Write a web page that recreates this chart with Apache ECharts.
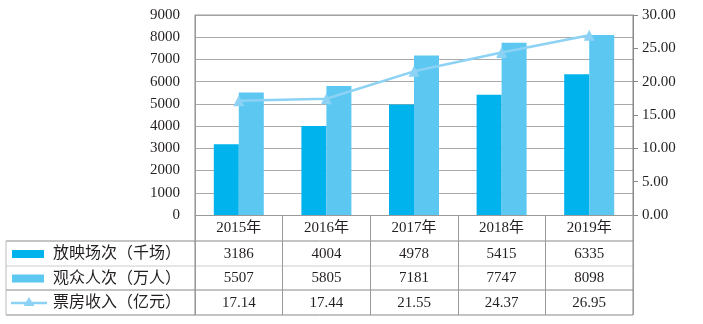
<!DOCTYPE html>
<html><head><meta charset="utf-8">
<script src="https://cdn.jsdelivr.net/npm/echarts@6/dist/echarts.min.js"></script>
<style>html,body{margin:0;padding:0;background:#fff}#c{width:703px;height:324px}</style>
</head><body><div id="c"></div>
<script>
var categories = ['2015年', '2016年', '2017年', '2018年', '2019年'];
var screenings = [3186, 4004, 4978, 5415, 6335];
var audience = [5507, 5805, 7181, 7747, 8098];
var boxOffice = [17.14, 17.44, 21.55, 24.37, 26.95];
var seriesNames = ['放映场次（千场）', '观众人次（万人）', '票房收入（亿元）'];
var tableValues = [
  screenings.map(String),
  audience.map(String),
  boxOffice.map(function (v) { return v.toFixed(2); })
];
var leftTicks = { min: 0, max: 9000, interval: 1000 };
var rightTicks = { min: 0, max: 30, interval: 5 };

var colDark = '#00B3EC', colLight = '#5CC8F2', colLine = '#8BD2F4';
var FONT = '"Liberation Serif", "Noto Sans CJK SC", serif';
var txt = '#231f20';

var chart = echarts.init(document.getElementById('c'));
var G = { left: 195, right: 70, top: 15, bottom: 109 };
chart.setOption({
  animation: false,
  grid: G,
  xAxis: {
    type: 'category', data: categories,
    axisLine: { show: true, lineStyle: { color: '#999', width: 1 } },
    axisTick: { show: true, length: 100, lineStyle: { color: '#999' } },
    axisLabel: { color: txt, fontFamily: FONT, fontSize: 15, margin: 6 }
  },
  yAxis: [{
    type: 'value', min: leftTicks.min, max: leftTicks.max, interval: leftTicks.interval,
    axisLine: { show: true, lineStyle: { color: '#999' } },
    axisTick: { show: false },
    splitLine: { lineStyle: { color: '#aaa' } },
    axisLabel: { color: txt, fontFamily: FONT, fontSize: 15, margin: 15,
      formatter: function (v) { return String(v); } }
  }, {
    type: 'value', min: rightTicks.min, max: rightTicks.max, interval: rightTicks.interval,
    axisLine: { show: true, lineStyle: { color: '#888' } },
    axisTick: { show: true, length: 5, lineStyle: { color: '#888' } },
    splitLine: { show: false },
    axisLabel: { color: txt, fontFamily: FONT, fontSize: 15, margin: 9,
      formatter: function (v) { return v.toFixed(2); } }
  }],
  series: [
    { name: seriesNames[0], type: 'bar', data: screenings, barWidth: 25, barGap: '0%',
      itemStyle: { color: colDark } },
    { name: seriesNames[1], type: 'bar', data: audience, barWidth: 25, barGap: '0%',
      itemStyle: { color: colLight } },
    { name: seriesNames[2], type: 'line', yAxisIndex: 1, data: boxOffice,
      symbol: 'triangle', symbolSize: 11, lineStyle: { color: colLine, width: 2.5 },
      itemStyle: { color: colLine } }
  ]
});

// Data table under the chart
var rowY = [254, 278.5, 303];
var rowLines = [241, 266, 290, 315];
var tableLeft = 6, tableRight = 703 - G.right;
var els = [];
rowLines.forEach(function (y, i) {
  els.push({ type: 'line', shape: { x1: tableLeft, y1: y, x2: tableRight, y2: y },
    style: { stroke: (i === 1) ? '#ccc' : '#888', lineWidth: 1 } });
});
els.push({ type: 'line', shape: { x1: tableLeft, y1: rowLines[0], x2: tableLeft, y2: rowLines[3] },
  style: { stroke: '#bbb', lineWidth: 1 } });
els.push({ type: 'line', shape: { x1: tableRight, y1: G.top, x2: tableRight, y2: rowLines[3] },
  style: { stroke: '#888', lineWidth: 1 } });
els.push({ type: 'line', shape: { x1: G.left, y1: G.top, x2: G.left, y2: rowLines[3] },
  style: { stroke: '#888', lineWidth: 1 } });
els.push({ type: 'line', shape: { x1: G.left, y1: G.top, x2: tableRight, y2: G.top },
  style: { stroke: '#999', lineWidth: 1 } });

// legend keys
els.push({ type: 'rect', shape: { x: 12, y: rowY[0] - 4, width: 32, height: 8 }, style: { fill: colDark } });
els.push({ type: 'rect', shape: { x: 12, y: rowY[1] - 4, width: 32, height: 8 }, style: { fill: colLight } });
els.push({ type: 'line', shape: { x1: 11, y1: rowY[2], x2: 47, y2: rowY[2] }, style: { stroke: colLine, lineWidth: 2.5 } });
els.push({ type: 'polygon', shape: { points: [[29, rowY[2] - 6], [23.5, rowY[2] + 3], [34.5, rowY[2] + 3]] }, style: { fill: colLine } });
seriesNames.forEach(function (n, r) {
  els.push({ type: 'text', x: 53, y: rowY[r], style: { text: n, fill: txt, font: '16px ' + FONT,
    textAlign: 'left', textVerticalAlign: 'middle' } });
});
categories.forEach(function (c, i) {
  var px = chart.convertToPixel({ xAxisIndex: 0 }, c);
  tableValues.forEach(function (vals, r) {
    els.push({ type: 'text', x: px, y: rowY[r], style: { text: vals[i], fill: txt, font: '15px ' + FONT,
      textAlign: 'center', textVerticalAlign: 'middle' } });
  });
});
chart.setOption({ graphic: { elements: els } });
</script>
</body></html>
